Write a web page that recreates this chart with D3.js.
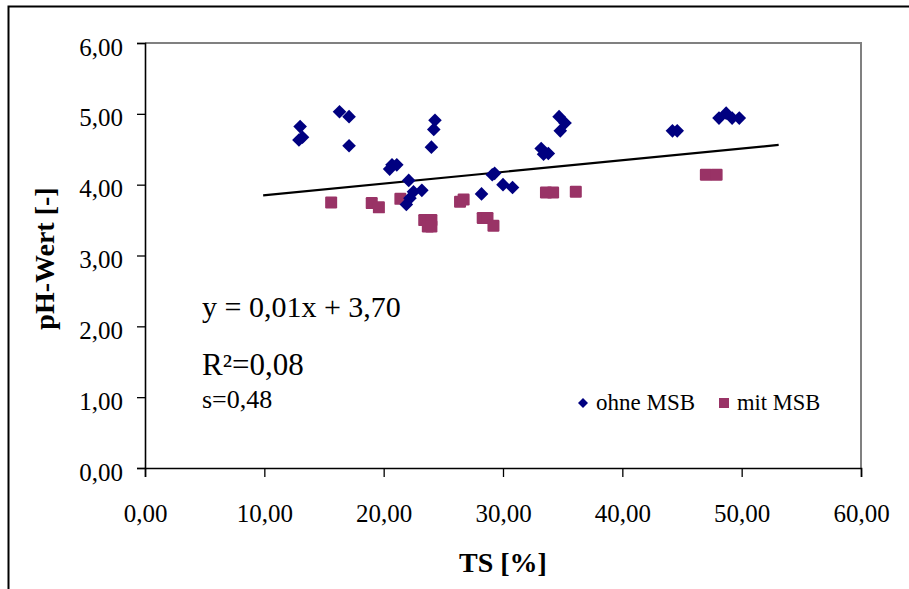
<!DOCTYPE html>
<html><head><meta charset="utf-8">
<script src="https://cdn.jsdelivr.net/npm/d3@7"></script>
<style>
html,body{margin:0;padding:0;background:#fff;}
svg{display:block;font-family:"Liberation Serif","Times New Roman",serif;}
</style></head>
<body><svg id="c" width="909" height="589"></svg>
<script>
// ---- data ----
const xTicks = [0,10,20,30,40,50,60];
const yTicks = [0,1,2,3,4,5,6];
const ohneX = [13.0,12.9,13.2,16.3,17.1,17.1,20.5,20.7,21.1,22.1,22.5,23.2,22.2,21.9,24.3,24.2,24.0,29.1,29.3,30.0,30.8,28.2,33.2,33.4,33.8,34.7,35.2,34.8,44.2,44.6,48.1,48.7,49.2,49.8];
const ohneY = [4.82,4.63,4.67,5.03,4.96,4.55,4.22,4.28,4.28,4.06,3.90,3.92,3.81,3.72,4.91,4.78,4.53,4.14,4.16,4.00,3.96,3.87,4.51,4.43,4.44,4.96,4.87,4.76,4.76,4.76,4.94,5.01,4.94,4.94];
const mitX = [15.6,19.0,19.6,21.4,23.4,24.0,23.7,24.0,26.4,26.7,28.3,28.7,29.2,33.6,34.2,36.1,47.0,47.9];
const mitY = [3.75,3.74,3.68,3.80,3.50,3.50,3.41,3.41,3.76,3.79,3.53,3.53,3.42,3.89,3.89,3.90,4.14,4.14];
const trendX = [9.9,53.1];
const trendSlope = 0.0165, trendIntercept = 3.685;
const seriesNames = ["ohne MSB","mit MSB"];
const annotations = ["y = 0,01x + 3,70","R²=0,08","s=0,48"];
const xTitle = "TS [%]", yTitle = "pH-Wert [-]";

// ---- drawing ----
const svg = d3.select("#c");
const L=145,R=861,T=43,B=468;
const x = d3.scaleLinear().domain([0,60]).range([L,R]);
const y = d3.scaleLinear().domain([0,6]).range([B,T]);
const fmt = d => d3.format(".2f")(d).replace(".",",");

// outer frame
svg.append("path").attr("d","M8.5,589 V6.5 H909").attr("fill","none").attr("stroke","#000").attr("stroke-width",2);

// plot area border (grey top/right)
svg.append("path").attr("d",`M${L},${T} H${R} V${B}`).attr("fill","none").attr("stroke","#808080").attr("stroke-width",2);

// axes
const xAxis = svg.append("g").attr("transform",`translate(0,${B})`)
  .call(d3.axisBottom(x).tickValues(xTicks).tickFormat(fmt).tickSize(9).tickPadding(30));
const yAxis = svg.append("g").attr("transform",`translate(${L},0)`)
  .call(d3.axisLeft(y).tickValues(yTicks).tickFormat(fmt).tickSize(8).tickPadding(14));
[xAxis,yAxis].forEach(g=>{
  g.select(".domain").attr("stroke","#000").attr("stroke-width",1.6);
  g.selectAll(".tick line").attr("stroke","#000").attr("stroke-width",1.3);
  g.selectAll(".tick text").attr("fill","#000").style("font-size","25px").style("font-family","Liberation Serif, Times New Roman, serif");
});
xAxis.selectAll(".tick text").attr("dy",null).attr("y",54);
yAxis.selectAll(".tick text").attr("dy","0.48em");

// trendline
svg.append("line")
  .attr("x1",x(trendX[0])).attr("y1",y(trendIntercept+trendSlope*trendX[0]))
  .attr("x2",x(trendX[1])).attr("y2",y(trendIntercept+trendSlope*trendX[1]))
  .attr("stroke","#000").attr("stroke-width",2.2);

const diamond = s => `M0,${-s} L${s},0 L0,${s} L${-s},0 Z`;
// mit MSB squares
svg.append("g").selectAll("rect").data(mitX.map((v,i)=>[v,mitY[i]])).join("rect")
  .attr("x",d=>x(d[0])-6).attr("y",d=>y(d[1])-6).attr("width",12).attr("height",12)
  .attr("rx",1.2).attr("fill","#993366");
// ohne MSB diamonds
svg.append("g").selectAll("path").data(ohneX.map((v,i)=>[v,ohneY[i]])).join("path")
  .attr("transform",d=>`translate(${x(d[0])},${y(d[1])})`).attr("d",diamond(6.8)).attr("fill","#000080");

// annotations
svg.append("text").attr("x",202).attr("y",317).style("font-size","30px").text(annotations[0]);
svg.append("text").attr("x",202).attr("y",375).style("font-size","31px").text(annotations[1]);
svg.append("text").attr("x",202).attr("y",408).style("font-size","26px").text(annotations[2]);

// legend
svg.append("path").attr("transform","translate(583,403)").attr("d",diamond(5)).attr("fill","#000080");
svg.append("text").attr("x",596).attr("y",410).style("font-size","23px").text(seriesNames[0]);
svg.append("rect").attr("x",719).attr("y",398).attr("width",10).attr("height",10).attr("fill","#993366");
svg.append("text").attr("x",737).attr("y",410).style("font-size","22.5px").text(seriesNames[1]);

// axis titles
svg.append("text").attr("x",(L+R)/2).attr("y",572).attr("text-anchor","middle")
  .style("font-size","28px").style("font-weight","bold").text(xTitle);
svg.append("text").attr("transform",`translate(54,${(T+B)/2+3}) rotate(-90)`).attr("text-anchor","middle")
  .style("font-size","28px").style("font-weight","bold").text(yTitle);
</script></body></html>
